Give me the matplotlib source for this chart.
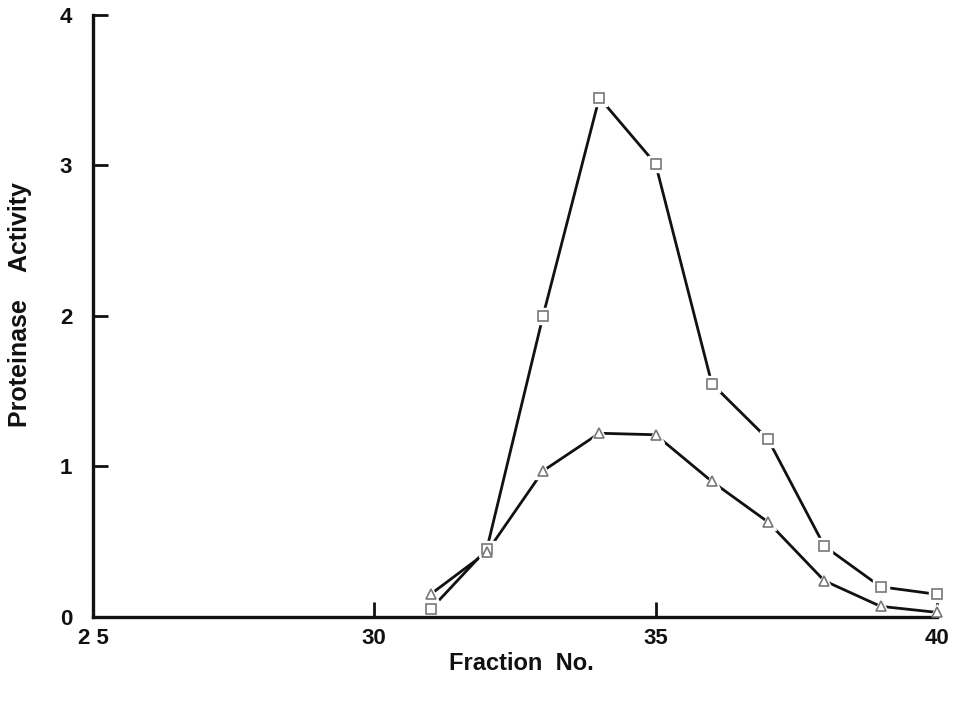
import matplotlib
matplotlib.use("Agg")
import matplotlib.pyplot as plt

fractions = [31, 32, 33, 34, 35, 36, 37, 38, 39, 40]
squares = [0.05, 0.45, 2.00, 3.45, 3.01, 1.55, 1.18, 0.47, 0.20, 0.15]
triangles = [0.15, 0.43, 0.97, 1.22, 1.21, 0.90, 0.63, 0.24, 0.07, 0.03]

xticks = [25, 30, 35, 40]
xticklabels = ["2 5", "30", "35", "40"]
yticks = [0, 1, 2, 3, 4]

plt.rcParams['font.family'] = ['Liberation Sans', 'DejaVu Sans']
fig = plt.figure(figsize=(9.54, 7.05), dpi=100)
ax = fig.add_axes([0.0975, 0.125, 0.8845, 0.854])

for ys, mk in [(squares, 's'), (triangles, '^')]:
    ax.plot(fractions, ys, color='#111111', lw=2.0, zorder=2.1, clip_on=False)
    ax.plot(fractions, ys, linestyle='none', marker=mk, markersize=12,
            mfc='white', mec='white', zorder=2.2, clip_on=False)
    ax.plot(fractions, ys, linestyle='none', marker=mk, markersize=6.5,
            mfc='white', mec='#777777', mew=1.2, zorder=4, clip_on=False)

ax.set_xlim(25, 40)
ax.set_ylim(0, 4)
ax.set_xticks(xticks)
ax.set_xticklabels(xticklabels)
ax.set_yticks(yticks)

for s in ['top', 'right']:
    ax.spines[s].set_visible(False)
for s in ['left', 'bottom']:
    ax.spines[s].set_linewidth(2.4)
    ax.spines[s].set_color('#111111')
    ax.spines[s].set_zorder(3)

ax.tick_params(axis='x', direction='in', length=11, width=2, pad=8,
               labelsize=16, colors='#111111')
ax.tick_params(axis='y', direction='in', length=11, width=2, pad=15,
               labelsize=16, colors='#111111')
for lab in ax.get_xticklabels() + ax.get_yticklabels():
    lab.set_fontweight('bold')

ax.set_xlabel("Fraction  No.", fontsize=17, fontweight='bold',
              color='#111111')
ax.set_ylabel("Proteinase    Activity", fontsize=18, fontweight='bold',
              color='#111111')
ax.xaxis.set_label_coords(0.508, -0.058)
ax.yaxis.set_label_coords(-0.072, 0.518)

fig.savefig("out.png", dpi=100)
